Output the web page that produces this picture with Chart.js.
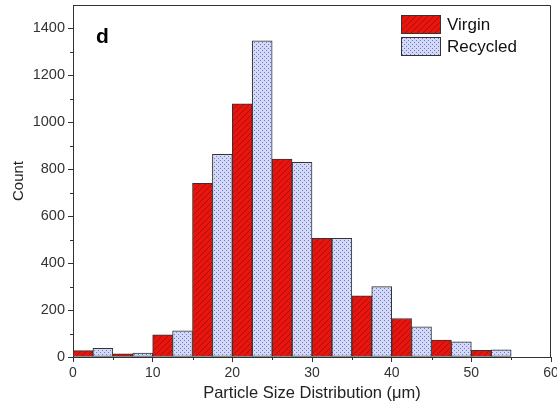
<!DOCTYPE html>
<html>
<head>
<meta charset="utf-8">
<script src="https://cdn.jsdelivr.net/npm/chart.js@4"></script>
<style>
    html, body { margin: 0; padding: 0; background: #fff; }
    #wrap { width: 557px; height: 407px; }
</style>
</head>
<body>
<div id="wrap"><canvas id="psdChart" width="557" height="407"></canvas></div>
<script>
// Histogram data (bin left edges in µm, counts)
const binWidth = 2.5;
const virginBins = [0, 5, 10, 15, 20, 25, 30, 35, 40, 45, 50];
const virginCounts = [27, 13, 95, 740, 1079, 843, 506, 261, 164, 72, 28];
const recycledBins = [2.5, 7.5, 12.5, 17.5, 22.5, 27.5, 32.5, 37.5, 42.5, 47.5, 52.5];
const recycledCounts = [37, 17, 111, 864, 1347, 830, 506, 300, 129, 65, 31];
const xTicks = [0, 10, 20, 30, 40, 50, 60];
const yTicks = [0, 200, 400, 600, 800, 1000, 1200, 1400];
const seriesNames = ["Virgin", "Recycled"];

const axisColor = "#333";
const fontFamily = "'Liberation Sans', Arial, sans-serif";

// Hatched red fill
function makeHatch() {
    const c = document.createElement("canvas");
    c.width = 6; c.height = 6;
    const g = c.getContext("2d");
    g.fillStyle = "#e8140e";
    g.fillRect(0, 0, 6, 6);
    g.strokeStyle = "#b00e0a";
    g.lineWidth = 1;
    g.beginPath();
    g.moveTo(0, 6); g.lineTo(6, 0);
    g.moveTo(-3, 3); g.lineTo(3, -3);
    g.moveTo(3, 9); g.lineTo(9, 3);
    g.stroke();
    return g.createPattern(c, "repeat");
}

// Dotted blue fill
function makeDots() {
    const c = document.createElement("canvas");
    c.width = 4; c.height = 4;
    const g = c.getContext("2d");
    g.fillStyle = "#d4daf5";
    g.fillRect(0, 0, 4, 4);
    g.fillStyle = "#6a78d4";
    g.fillRect(0, 0, 1, 1);
    g.fillRect(2, 2, 1, 1);
    return g.createPattern(c, "repeat");
}

const hatchFill = makeHatch();
const dotFill = makeDots();

function toPoints(bins, counts) {
    return bins.map((b, i) => ({ x: b + binWidth / 2, y: counts[i] }));
}

// Frame, minor ticks, legend and panel letter
const decorations = {
    id: "decorations",
    afterDraw(chart) {
        const { ctx, chartArea: a, scales } = chart;
        ctx.save();
        ctx.strokeStyle = axisColor;
        ctx.lineWidth = 1;
        ctx.beginPath();
        ctx.moveTo(a.left, a.top + 0.5);
        ctx.lineTo(a.right - 0.5, a.top + 0.5);
        ctx.lineTo(a.right - 0.5, a.bottom);
        // minor ticks
        for (let v = 100; v < 1500; v += 200) {
            const y = Math.round(scales.y.getPixelForValue(v)) + 0.5;
            ctx.moveTo(a.left - 3, y);
            ctx.lineTo(a.left, y);
        }
        for (let v = 5; v < 60; v += 10) {
            const x = Math.round(scales.x.getPixelForValue(v)) + 0.5;
            ctx.moveTo(x, a.bottom);
            ctx.lineTo(x, a.bottom + 3);
        }
        ctx.stroke();

        // panel letter
        ctx.fillStyle = "#000";
        ctx.font = "bold 21px " + fontFamily;
        ctx.textBaseline = "middle";
        ctx.fillText("d", 96, 37);

        // legend
        const fills = [hatchFill, dotFill];
        ctx.font = "17px " + fontFamily;
        seriesNames.forEach((name, i) => {
            const y = 15 + i * 22;
            ctx.fillStyle = fills[i];
            ctx.fillRect(401, y, 40, 19);
            ctx.strokeStyle = axisColor;
            ctx.strokeRect(401.5, y + 0.5, 39, 18);
            ctx.fillStyle = "#111";
            ctx.fillText(name, 447, y + 10);
        });
        ctx.restore();
    },
};

const ctx = document.getElementById("psdChart").getContext("2d");
new Chart(ctx, {
    type: "bar",
    data: {
        datasets: [
            {
                label: seriesNames[0],
                data: toPoints(virginBins, virginCounts),
                backgroundColor: hatchFill,
                borderColor: "#333",
                borderWidth: 1,
                borderSkipped: false,
            },
            {
                label: seriesNames[1],
                data: toPoints(recycledBins, recycledCounts),
                backgroundColor: dotFill,
                borderColor: "#333",
                borderWidth: 1,
                borderSkipped: false,
            },
        ],
    },
    options: {
        responsive: false,
        animation: false,
        grouped: false,
        barPercentage: 1,
        categoryPercentage: 1,
        layout: { padding: { top: 5, right: 6, left: 0, bottom: 0 } },
        plugins: {
            legend: { display: false },
            tooltip: { enabled: false },
        },
        scales: {
            x: {
                type: "linear",
                min: 0,
                max: 60,
                offset: false,
                grid: { offset: false, drawOnChartArea: false, tickLength: 5, color: axisColor },
                border: { color: axisColor, width: 1 },
                afterBuildTicks: (s) => { s.ticks = xTicks.map((v) => ({ value: v })); },
                ticks: {
                    color: "#333",
                    padding: 3,
                    maxRotation: 0,
                    callback: (v) => String(v),
                    font: { family: fontFamily, size: 14 },
                },
                title: {
                    display: true,
                    text: "Particle Size Distribution (μm)",
                    color: "#222",
                    padding: { top: 0, bottom: 4 },
                    font: { family: fontFamily, size: 16.5 },
                },
                afterFit: (s) => { s.height = 50; s.paddingRight = 0; s.paddingLeft = 0; },
            },
            y: {
                min: 0,
                max: 1500,
                grid: { drawOnChartArea: false, tickLength: 5, color: axisColor },
                border: { color: axisColor, width: 1 },
                afterBuildTicks: (s) => { s.ticks = yTicks.map((v) => ({ value: v })); },
                ticks: {
                    color: "#333",
                    padding: 3,
                    callback: (v) => String(v),
                    font: { family: fontFamily, size: 14.5 },
                },
                title: {
                    display: true,
                    text: "Count",
                    color: "#222",
                    padding: { top: 10, bottom: 0 },
                    font: { family: fontFamily, size: 15 },
                },
                afterFit: (s) => { s.width = 73; s.paddingTop = 0; s.paddingBottom = 0; },
            },
        },
    },
    plugins: [decorations],
});
</script>
</body>
</html>
